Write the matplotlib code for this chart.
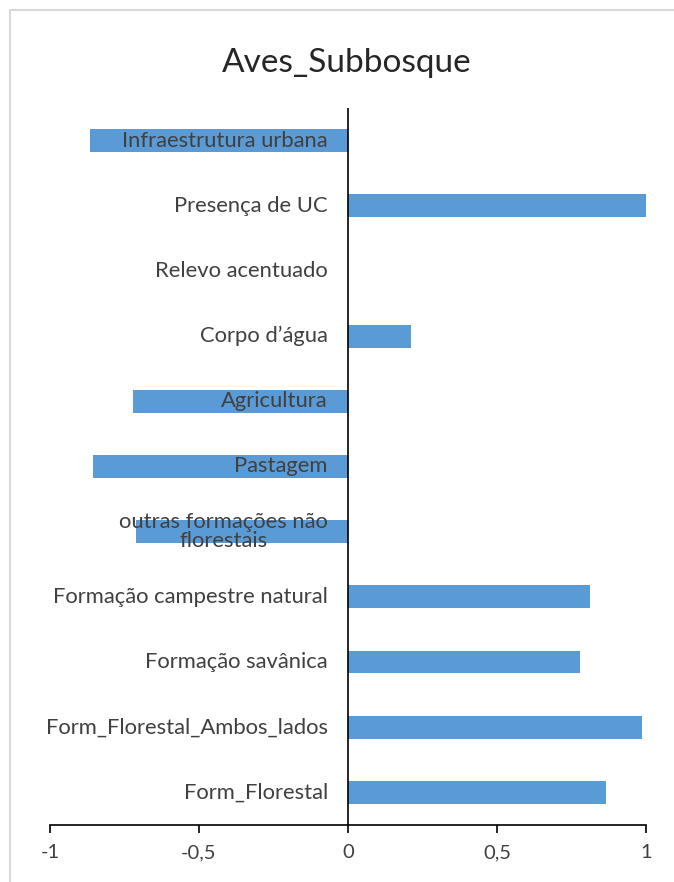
import matplotlib
matplotlib.use("Agg")
import matplotlib.pyplot as plt
from matplotlib.patches import Rectangle

categories = [
    "Form_Florestal",
    "Form_Florestal_Ambos_lados",
    "Formação savânica",
    "Formação campestre natural",
    "outras formações não\nflorestais",
    "Pastagem",
    "Agricultura",
    "Corpo d’água",
    "Relevo acentuado",
    "Presença de UC",
    "Infraestrutura urbana",
]
values = [0.865, 0.987, 0.778, 0.812, -0.711, -0.857, -0.722, 0.21, 0.0, 1.0, -0.866]
tick_values = [-1, -0.5, 0, 0.5, 1]
tick_labels = ["-1", "-0,5", "0", "0,5", "1"]

plt.rcParams["font.family"] = ["Lato", "DejaVu Sans"]

fig = plt.figure(figsize=(6.74, 8.82), dpi=100)
ax = fig.add_axes([50 / 674, 1 - 825 / 882, 596 / 674, 717 / 882])

ypos = list(range(len(categories)))
ax.barh(ypos, values, height=0.35, color="#5B9BD5", zorder=1)

ax.set_xlim(-1, 1)
ax.set_ylim(-0.5, len(categories) - 0.5)
ax.set_xticks(tick_values)
ax.set_xticklabels(tick_labels, fontsize=14.5, color="#404040")
ax.tick_params(axis="x", direction="out", length=6, width=1.2, pad=8)

for side in ["top", "right", "left"]:
    ax.spines[side].set_visible(False)
ax.spines["bottom"].set_linewidth(1.2)
ax.set_yticks([])
ax.axvline(0, color="black", linewidth=1.2, zorder=3)

# category labels sit just left of the zero line, over the bars
for y, lab in zip(ypos, categories):
    ax.annotate(lab, xy=(0, y), xytext=(-14.5, 0), textcoords="offset points",
                ha="right", va="center", multialignment="center",
                fontsize=15.8, color="#404040", zorder=4, linespacing=0.95)

fig.text(347 / 674, 1 - 63 / 882, "Aves_Subbosque", ha="center", va="center",
         fontsize=24, color="#262626")

# light frame of the cropped chart area
fig.patches.append(Rectangle((10 / 674, -0.5), 2.0, 1.5 - 10 / 882,
                             transform=fig.transFigure, fill=False,
                             edgecolor="#d9d9d9", linewidth=1.5))

fig.savefig("out.png", dpi=100)
